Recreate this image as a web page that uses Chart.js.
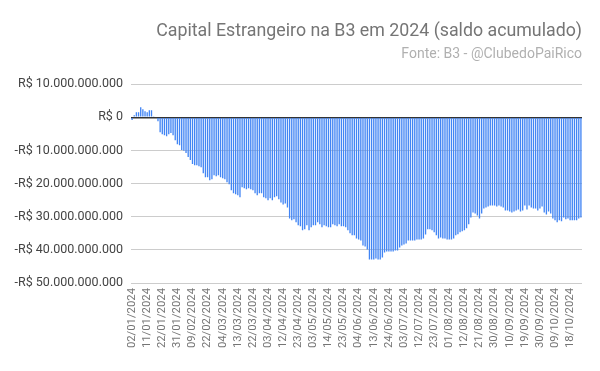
<!DOCTYPE html>
<html>
<head>
<meta charset="utf-8">
<script src="https://cdn.jsdelivr.net/npm/chart.js@4"></script>
<style>
  html, body { margin: 0; padding: 0; background: #fff; }
  #wrap { width: 600px; height: 371px; }
</style>
</head>
<body>
<div id="wrap"><canvas id="chartSaldo"></canvas></div>
<script>
// trading days of B3 in 2024 (one bar each)
const DATAS = [
  '02/01/2024','03/01/2024','04/01/2024','05/01/2024','08/01/2024','09/01/2024','10/01/2024','11/01/2024','12/01/2024','15/01/2024','16/01/2024',
  '17/01/2024','18/01/2024','19/01/2024','22/01/2024','23/01/2024','24/01/2024','25/01/2024','26/01/2024','29/01/2024','30/01/2024','31/01/2024',
  '01/02/2024','02/02/2024','05/02/2024','06/02/2024','07/02/2024','08/02/2024','09/02/2024','14/02/2024','15/02/2024','16/02/2024',
  '19/02/2024','20/02/2024','21/02/2024','22/02/2024','23/02/2024','26/02/2024','27/02/2024','28/02/2024','29/02/2024',
  '01/03/2024','04/03/2024','05/03/2024','06/03/2024','07/03/2024','08/03/2024','11/03/2024','12/03/2024','13/03/2024','14/03/2024',
  '15/03/2024','18/03/2024','19/03/2024','20/03/2024','21/03/2024','22/03/2024','25/03/2024','26/03/2024','27/03/2024','28/03/2024',
  '01/04/2024','02/04/2024','03/04/2024','04/04/2024','05/04/2024','08/04/2024','09/04/2024','10/04/2024','11/04/2024','12/04/2024','15/04/2024',
  '16/04/2024','17/04/2024','18/04/2024','19/04/2024','22/04/2024','23/04/2024','24/04/2024','25/04/2024','26/04/2024','29/04/2024','30/04/2024',
  '02/05/2024','03/05/2024','06/05/2024','07/05/2024','08/05/2024','09/05/2024','10/05/2024','13/05/2024','14/05/2024','15/05/2024','16/05/2024',
  '17/05/2024','20/05/2024','21/05/2024','22/05/2024','23/05/2024','24/05/2024','27/05/2024','28/05/2024','29/05/2024','31/05/2024',
  '03/06/2024','04/06/2024','05/06/2024','06/06/2024','07/06/2024','10/06/2024','11/06/2024','12/06/2024','13/06/2024','14/06/2024',
  '17/06/2024','18/06/2024','19/06/2024','20/06/2024','21/06/2024','24/06/2024','25/06/2024','26/06/2024','27/06/2024','28/06/2024',
  '01/07/2024','02/07/2024','03/07/2024','04/07/2024','05/07/2024','08/07/2024','09/07/2024','10/07/2024','11/07/2024','12/07/2024','15/07/2024','16/07/2024',
  '17/07/2024','18/07/2024','19/07/2024','22/07/2024','23/07/2024','24/07/2024','25/07/2024','26/07/2024','29/07/2024','30/07/2024','31/07/2024',
  '01/08/2024','02/08/2024','05/08/2024','06/08/2024','07/08/2024','08/08/2024','09/08/2024','12/08/2024','13/08/2024','14/08/2024','15/08/2024',
  '16/08/2024','19/08/2024','20/08/2024','21/08/2024','22/08/2024','23/08/2024','26/08/2024','27/08/2024','28/08/2024','29/08/2024','30/08/2024',
  '02/09/2024','03/09/2024','04/09/2024','05/09/2024','06/09/2024','09/09/2024','10/09/2024','11/09/2024','12/09/2024','13/09/2024','16/09/2024',
  '17/09/2024','18/09/2024','19/09/2024','20/09/2024','23/09/2024','24/09/2024','25/09/2024','26/09/2024','27/09/2024','30/09/2024',
  '01/10/2024','02/10/2024','03/10/2024','04/10/2024','07/10/2024','08/10/2024','09/10/2024','10/10/2024','11/10/2024','14/10/2024',
  '15/10/2024','16/10/2024','17/10/2024','18/10/2024','21/10/2024','22/10/2024','23/10/2024','24/10/2024','25/10/2024',
];

// saldo acumulado, in R$ billions
const SALDO_BI = [
  -0.8, 0.6, 1.5, 1.5, 3.0, 2.4, 1.8, 1.5, 2.1, 2.1, 0.3, 0.0, -1.2, -4.5, -5.1, -5.4, -5.7,
  -5.1, -4.7, -5.4, -6.9, -8.1, -8.4, -9.9, -10.1, -10.8, -12.0, -12.9, -14.1, -14.5, -14.5, -14.8, -15.1, -16.9,
  -18.1, -18.1, -19.0, -18.7, -17.5, -17.8, -17.5, -18.1, -18.4, -18.7, -19.6, -20.2, -22.0, -22.9, -23.2, -23.5, -24.1,
  -21.1, -21.4, -21.7, -21.4, -21.7, -22.0, -22.9, -23.5, -22.9, -22.9, -24.1, -24.4, -25.0, -24.4, -25.0, -24.1, -23.8, -24.7,
  -25.7, -26.3, -26.0, -27.2, -30.5, -31.1, -30.8, -31.7, -32.6, -32.9, -34.1, -33.8, -32.6, -34.1, -33.2, -32.6, -32.6, -31.7,
  -32.3, -33.2, -32.6, -32.9, -33.2, -33.2, -32.3, -32.6, -32.9, -32.3, -32.9, -32.9, -33.2, -34.1, -35.0, -35.6, -35.6,
  -36.6, -36.9, -37.2, -38.7, -39.0, -39.9, -42.9, -42.9, -42.9, -42.6, -42.9, -42.9, -42.3, -40.8, -40.5, -40.5, -40.5, -40.5,
  -40.2, -40.2, -39.3, -38.7, -38.4, -38.1, -37.2, -37.2, -37.2, -37.2, -36.9, -36.9, -36.9, -36.6, -35.4, -33.8, -33.8,
  -34.1, -34.7, -35.6, -36.6, -36.3, -36.6, -36.6, -36.9, -36.9, -36.9, -36.6, -35.6, -35.3, -34.7, -34.4, -34.1, -33.5, -32.3,
  -30.2, -28.7, -29.0, -29.6, -30.5, -29.0, -27.5, -27.2, -26.9, -26.6, -26.6, -26.6, -26.9, -26.6, -26.9, -27.2, -28.1, -28.1,
  -28.4, -28.7, -28.4, -28.1, -27.8, -28.4, -28.1, -26.6, -27.8, -26.6, -27.2, -27.5, -27.5, -28.1, -27.5, -26.9, -28.7,
  -29.3, -28.4, -29.0, -30.5, -31.1, -31.7, -31.1, -31.4, -30.2, -30.8, -30.5, -31.1, -31.1, -31.1, -31.1, -30.5, -30.2,
];

const Y_MIN = -50, Y_MAX = 10, Y_STEP = 10;   // billions
const LABEL_EVERY = 7;                         // one date label per 7 trading days

const TITULO = 'Capital Estrangeiro na B3 em 2024 (saldo acumulado)';
const FONTE = 'Fonte: B3 - @ClubedoPaiRico';

// R$ 10.000.000.000 style
function reais(bi) {
  const n = Math.round(Math.abs(bi) * 1e9);
  const s = String(n).replace(/\B(?=(\d{3})+(?!\d))/g, '.');
  return (bi < 0 ? '-R$ ' : 'R$ ') + s;
}

const FONT = 'Roboto, "Noto Sans", sans-serif';

new Chart(document.getElementById('chartSaldo'), {
  type: 'bar',
  data: {
    labels: DATAS,
    datasets: [{
      data: SALDO_BI,
      backgroundColor: '#4285f4',
      borderWidth: 0,
      categoryPercentage: 1,
      barPercentage: 0.62,
    }]
  },
  options: {
    responsive: true, maintainAspectRatio: false,
    animation: false,
    layout: { padding: { left: 0, right: 18, top: 0, bottom: 0 } },
    plugins: {
      legend: { display: false },
      tooltip: { enabled: false },
      title: {
        display: true, text: TITULO, align: 'end',
        color: '#757575',
        font: { family: FONT, size: 17.8, weight: 'normal' },
        padding: { top: 21, bottom: 4 },
      },
      subtitle: {
        display: true, text: FONTE, align: 'end',
        color: '#b0b0b0',
        font: { family: FONT, size: 14, weight: 'normal' },
        padding: { top: 0, bottom: 21 },
      },
    },
    scales: {
      x: {
        grid: { display: false, drawTicks: false },
        border: { display: false },
        ticks: {
          autoSkip: false, maxRotation: 90, minRotation: 90, padding: 5,
          color: '#757575',
          font: { family: FONT, size: 11.3 },
          callback: (v, i) => (i % LABEL_EVERY === 0 ? DATAS[i] : ''),
        },
        afterFit: s => { s.height = 88; },
      },
      y: {
        min: Y_MIN, max: Y_MAX,
        border: { display: false },
        grid: {
          drawTicks: false,
          color: c => (c.tick && c.tick.value === 0 ? '#333333' : '#cccccc'),
          lineWidth: c => (c.tick && c.tick.value === 0 ? 1.5 : 1),
        },
        ticks: {
          stepSize: Y_STEP, padding: 8,
          color: '#444444',
          font: { family: FONT, size: 12.5 },
          callback: v => reais(v),
        },
        afterFit: s => { s.width = 131; },
      }
    }
  }
});
</script>
</body>
</html>
